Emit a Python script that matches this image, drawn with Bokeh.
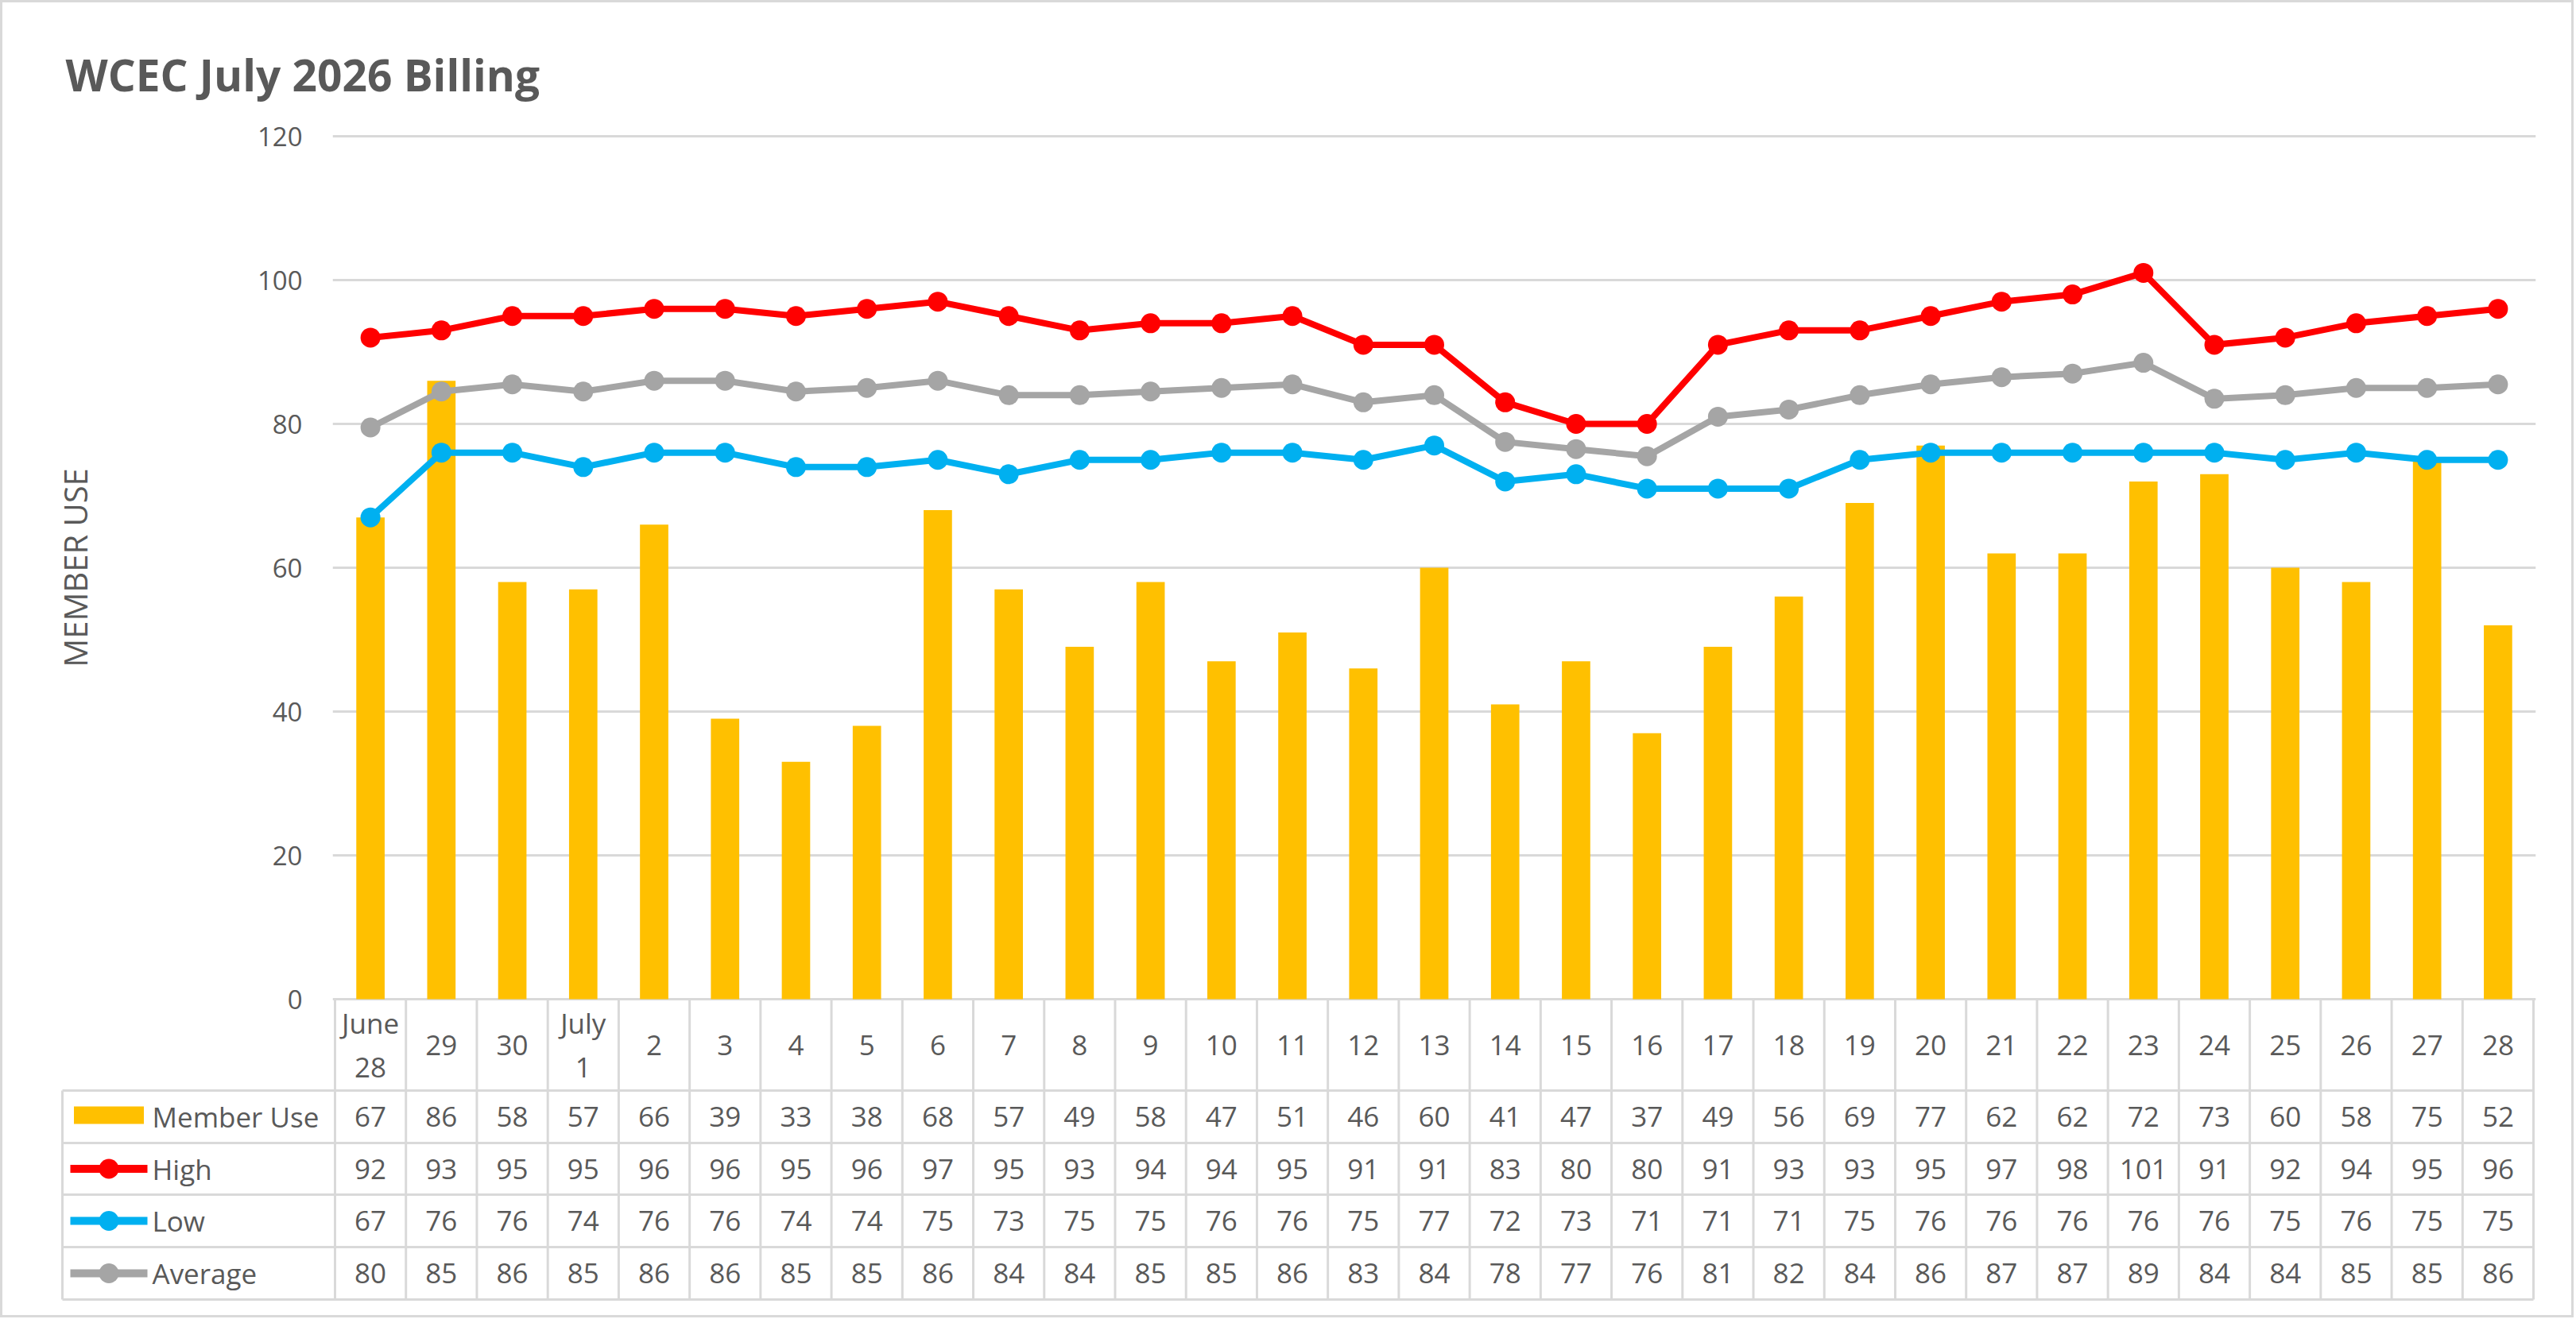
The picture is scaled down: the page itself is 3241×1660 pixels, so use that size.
from bokeh.plotting import figure
from bokeh.models import Range1d, FixedTicker, Title
from bokeh.layouts import column
from bokeh.embed import file_html
from bokeh.resources import INLINE
from bokeh.core.properties import value

# --- data ---
categories = ["June\n28", "29", "30", "July\n1", "2", "3", "4", "5", "6", "7", "8",
              "9", "10", "11", "12", "13", "14", "15", "16", "17", "18", "19", "20",
              "21", "22", "23", "24", "25", "26", "27", "28"]
member_use = [67, 86, 58, 57, 66, 39, 33, 38, 68, 57, 49, 58, 47, 51, 46, 60,
              41, 47, 37, 49, 56, 69, 77, 62, 62, 72, 73, 60, 58, 75, 52]
high = [92, 93, 95, 95, 96, 96, 95, 96, 97, 95, 93, 94, 94, 95, 91, 91,
        83, 80, 80, 91, 93, 93, 95, 97, 98, 101, 91, 92, 94, 95, 96]
low = [67, 76, 76, 74, 76, 76, 74, 74, 75, 73, 75, 75, 76, 76, 75, 77,
       72, 73, 71, 71, 71, 75, 76, 76, 76, 76, 76, 75, 76, 75, 75]
average = [79.5, 84.5, 85.5, 84.5, 86, 86, 84.5, 85, 86, 84, 84, 84.5, 85, 85.5, 83, 84,
           77.5, 76.5, 75.5, 81, 82, 84, 85.5, 86.5, 87, 88.5, 83.5, 84, 85, 85, 85.5]
average_labels = [80, 85, 86, 85, 86, 86, 85, 85, 86, 84, 84, 85, 85, 86, 83, 84,
                  78, 77, 76, 81, 82, 84, 86, 87, 87, 89, 84, 84, 85, 85, 86]
series_names = ["Member Use", "High", "Low", "Average"]
y_ticks = [0, 20, 40, 60, 80, 100, 120]

GOLD = "#FFC000"
RED = "#FF0000"
BLUE = "#00B0F0"
GRAY = "#A5A5A5"
TXT = "#595959"
GRID = "#D9D9D9"
FONT = "Open Sans"

# layout (page pixels)
FIG_W = 3238
PAGE_H = 1658
PLOT_L, PLOT_R = 421, 3187      # plot area, left/right
Y120, Y0 = 171, 1257            # pixel rows of 120 and 0
OVERLAP = 28                    # table figure slides under the chart's bottom border
n = len(categories)
xs = list(range(n))
px = (PLOT_R - PLOT_L) / n
unit = (Y0 - Y120) / 120
pad = 3

# chart-area border, drawn as inset shadows on the two figures
EDGE = "3px"
top_border = {"box-shadow": f"inset {EDGE} {EDGE} 0 0 {GRID}, inset -{EDGE} 0 0 0 {GRID}"}
bottom_border = {"box-shadow": f"inset {EDGE} -{EDGE} 0 0 {GRID}, inset -{EDGE} 0 0 0 {GRID}",
                 "margin-top": f"-{OVERLAP}px"}

# ---------------- chart ----------------
p = figure(
    width=FIG_W, height=Y0 + OVERLAP,
    x_range=Range1d(-0.5 - pad / px, n - 0.5 + pad / px),
    y_range=Range1d(-pad / unit, 120 + pad / unit),
    output_backend="svg", toolbar_location=None, x_axis_location=None,
    min_border_left=PLOT_L - pad, min_border_right=FIG_W - PLOT_R - pad,
    min_border_top=Y120 - pad, min_border_bottom=OVERLAP - pad, frame_align=False,
    styles=top_border,
)
p.outline_line_color = None
p.background_fill_color = None
p.border_fill_color = None

p.title = Title(
    text="WCEC July 2026 Billing", align="left", offset=82 - PLOT_L + pad,
    text_font=FONT, text_font_size="55px", text_font_style="bold",
    text_color=TXT, standoff=76,
)

p.yaxis.ticker = FixedTicker(ticks=y_ticks)
p.yaxis.axis_line_color = None
p.yaxis.major_tick_line_color = None
p.yaxis.minor_tick_line_color = None
p.yaxis.major_label_standoff = 32
p.yaxis.major_label_text_font = FONT
p.yaxis.major_label_text_font_size = "33px"
p.yaxis.major_label_text_color = TXT
p.yaxis.axis_label = "MEMBER USE"
p.yaxis.axis_label_text_font = FONT
p.yaxis.axis_label_text_font_size = "40px"
p.yaxis.axis_label_text_font_style = "normal"
p.yaxis.axis_label_text_color = TXT
p.yaxis.axis_label_standoff = 199
p.ygrid.grid_line_color = GRID
p.ygrid.grid_line_width = 3
p.xgrid.visible = False

p.vbar(x=xs, top=member_use, bottom=0, width=0.4, fill_color=GOLD, line_color=None)
for vals, col in [(high, RED), (low, BLUE), (average, GRAY)]:
    p.line(xs, vals, line_color=col, line_width=8, line_join="round")
    p.scatter(xs, vals, size=25, fill_color=col, line_color=None)

# ---------------- data table ----------------
TBL_H = PAGE_H - Y0
rows = [0, 115, 181, 246, 312, 378]   # row edges, pixels below the 0 line
leg_left = -0.5 - (PLOT_L - 78) / px
tb = figure(
    width=FIG_W, height=TBL_H,
    x_range=Range1d(-0.5 - PLOT_L / px, n - 0.5 + (FIG_W - PLOT_R) / px),
    y_range=Range1d(TBL_H, 0),
    output_backend="svg", toolbar_location=None,
    x_axis_location=None, y_axis_location=None,
    min_border_left=0, min_border_right=0,
    min_border_top=0, min_border_bottom=0, frame_align=False,
    styles=bottom_border,
)
tb.outline_line_color = None
tb.background_fill_color = None
tb.border_fill_color = None
tb.grid.visible = False

edges = [k - 0.5 for k in range(n + 1)]
hx0 = [leg_left] * (len(rows) - 1)
hx1 = [n - 0.5] * (len(rows) - 1)
tb.segment(x0=hx0, y0=rows[1:], x1=hx1, y1=rows[1:], line_color=GRID, line_width=3)
vx = edges + [leg_left]
vy0 = [rows[0]] * len(edges) + [rows[1]]
vy1 = [rows[-1]] * (len(edges) + 1)
tb.segment(x0=vx, y0=vy0, x1=vx, y1=vy1, line_color=GRID, line_width=3)

centers = [(rows[k] + rows[k + 1]) / 2 for k in range(len(rows) - 1)]

tb.text(x=xs, y=[centers[0]] * n, text=categories, text_align="center",
        text_baseline="middle", text_font=value(FONT), text_font_size="35px",
        text_color=TXT, text_line_height=1.18)

for r, vals in enumerate([member_use, high, low, average_labels]):
    tb.text(x=xs, y=[centers[r + 1]] * n, text=[str(v) for v in vals],
            text_align="center", text_baseline="middle", text_font=value(FONT),
            text_font_size="35px", text_color=TXT)

# legend keys in the first column
key_x0 = -0.5 - (PLOT_L - 88) / px
key_x1 = -0.5 - (PLOT_L - 185) / px
key_c = (key_x0 + key_x1) / 2
tb.rect(x=[key_c], y=[centers[1] - 2], width=88 / px, height=22,
        fill_color=GOLD, line_color=None)
for r, col in [(2, RED), (3, BLUE), (4, GRAY)]:
    tb.line([key_x0, key_x1], [centers[r], centers[r]], line_color=col, line_width=10)
    tb.scatter([key_c], [centers[r]], size=25, fill_color=col, line_color=None)

tb.text(x=[-0.5 - (PLOT_L - 191) / px] * 4, y=centers[1:], text=series_names,
        text_align="left", text_baseline="middle", text_font=value(FONT),
        text_font_size="35px", text_color=TXT)

layout = column(p, tb)

open("out.html", "w").write(file_html(layout, INLINE))
